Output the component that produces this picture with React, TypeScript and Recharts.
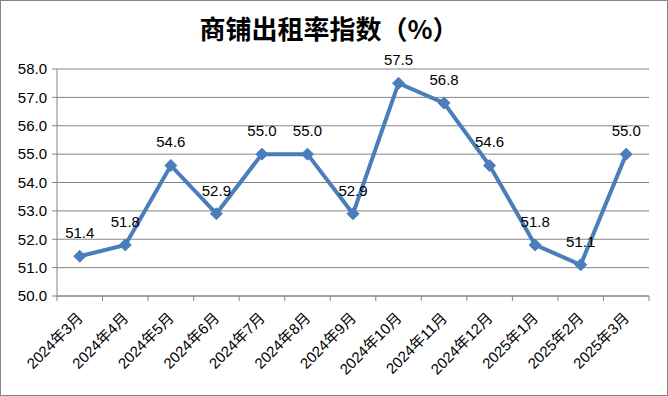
import { LineChart, Line, XAxis, YAxis, CartesianGrid, LabelList } from "recharts";

const months = [
  "2024年3月",
  "2024年4月",
  "2024年5月",
  "2024年6月",
  "2024年7月",
  "2024年8月",
  "2024年9月",
  "2024年10月",
  "2024年11月",
  "2024年12月",
  "2025年1月",
  "2025年2月",
  "2025年3月",
];

const occupancy = [51.4, 51.8, 54.6, 52.9, 55.0, 55.0, 52.9, 57.5, 56.8, 54.6, 51.8, 51.1, 55.0];

const yTicks = [50, 51, 52, 53, 54, 55, 56, 57, 58];

const chartData = months.map((month, i) => ({ month, value: occupancy[i] }));

const W = 668;
const H = 396;
const LEFT = 57;
const RIGHT = 19;
const BAND = (W - LEFT - RIGHT) / months.length;
const GRAY = "#868686";
const BLUE = "#4A7EBB";

function MonthTick(props: any) {
  const { x, y, payload, index } = props;
  const half = BAND / 2;
  const ax = x + 4;
  const ay = y + 23;
  return (
    <g>
      <line x1={x - half} y1={y} x2={x - half} y2={y + 5} stroke={GRAY} />
      {index === months.length - 1 && (
        <line x1={x + half} y1={y} x2={x + half} y2={y + 5} stroke={GRAY} />
      )}
      <text
        x={ax}
        y={ay}
        textAnchor="end"
        transform={`rotate(-45 ${ax} ${ay})`}
        fontSize={15}
        fontFamily="'Liberation Sans', 'Noto Sans CJK SC', sans-serif"
        fill="#000"
      >
        {payload.value}
      </text>
    </g>
  );
}

function Diamond(props: any) {
  const { cx, cy, index } = props;
  if (cx == null || cy == null) return null;
  const r = 6;
  return (
    <polygon
      key={`d-${index}`}
      points={`${cx},${cy - r} ${cx + r},${cy} ${cx},${cy + r} ${cx - r},${cy}`}
      fill={BLUE}
      stroke={BLUE}
    />
  );
}

export default function App() {
  return (
    <div
      style={{
        position: "absolute",
        left: 0,
        top: 0,
        width: W,
        height: H,
        background: "#fff",
      }}
    >
      <div
        style={{
          position: "absolute",
          left: 0,
          top: 0,
          width: W,
          height: H,
          boxSizing: "border-box",
          border: `1px solid ${GRAY}`,
          pointerEvents: "none",
        }}
      />
      <div
        style={{
          position: "absolute",
          left: 329,
          top: 14,
          transform: "translateX(-50%)",
          whiteSpace: "nowrap",
          fontFamily: "'Noto Sans CJK SC', sans-serif",
          fontWeight: "bold",
          fontSize: 26,
          lineHeight: "28px",
          color: "#000",
        }}
      >
        商铺出租率指数（%）
      </div>
      <LineChart
        width={W}
        height={H}
        data={chartData}
        margin={{ top: 69, right: RIGHT, left: 0, bottom: 0 }}
      >
        <CartesianGrid vertical={false} stroke={GRAY} />
        <XAxis
          dataKey="month"
          scale="band"
          interval={0}
          height={100}
          axisLine={{ stroke: GRAY }}
          tickLine={false}
          tickSize={0}
          tickMargin={0}
          tick={<MonthTick />}
        />
        <YAxis
          width={LEFT}
          domain={[50, 58]}
          ticks={yTicks}
          interval={0}
          tickFormatter={(v: number) => v.toFixed(1)}
          axisLine={{ stroke: GRAY }}
          tickLine={{ stroke: GRAY }}
          tickSize={5}
          tickMargin={5}
          tick={{ fontSize: 15, fill: "#000", fontFamily: "'Liberation Sans', sans-serif" }}
        />
        <Line
          type="linear"
          dataKey="value"
          stroke={BLUE}
          strokeWidth={4}
          dot={<Diamond />}
          activeDot={false}
          isAnimationActive={false}
        >
          <LabelList
            dataKey="value"
            position="top"
            offset={18}
            formatter={(v: any) => Number(v).toFixed(1)}
            fontSize={15}
            fill="#000"
            fontFamily="'Liberation Sans', sans-serif"
          />
        </Line>
      </LineChart>
    </div>
  );
}
